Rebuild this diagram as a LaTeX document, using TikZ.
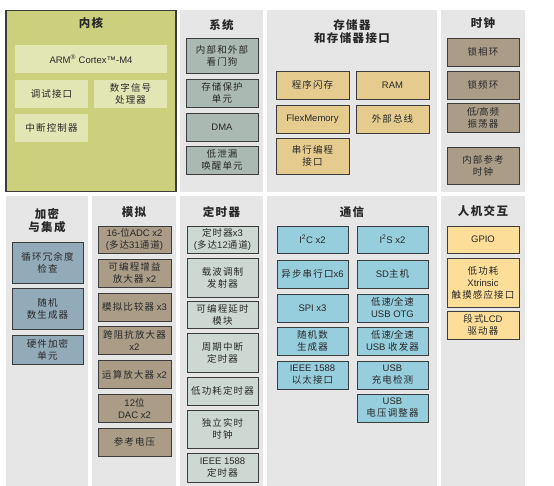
\documentclass[tikz,border=0pt]{standalone}
\usepackage{fontspec}
\setmainfont{Noto Sans CJK SC}[LetterSpace=12]
\newfontfamily\latfont{Liberation Sans}
\newcommand{\lat}[1]{{\latfont #1}}

\definecolor{panelbg}{RGB}{230,230,230}
\definecolor{corefill}{RGB}{203,208,125}
\definecolor{coreinner}{RGB}{226,229,180}
\definecolor{sysfill}{RGB}{170,186,178}
\definecolor{memfill}{RGB}{229,204,142}
\definecolor{clkfill}{RGB}{170,156,135}
\definecolor{cryfill}{RGB}{147,170,185}
\definecolor{timfill}{RGB}{206,216,210}
\definecolor{comfill}{RGB}{150,206,222}
\definecolor{hmifill}{RGB}{252,222,152}
\definecolor{edge}{RGB}{60,60,60}
\definecolor{txt}{RGB}{40,40,40}

\begin{document}
\begin{tikzpicture}[x=1pt, y=-1pt,
  panel/.style={fill=panelbg, inner sep=0pt},
  ptitle/.style={font=\bfseries\fontsize{11.5}{13.5}\selectfont, align=center, text=txt},
  blk/.style={draw=edge, line width=0.9pt, inner sep=0pt, align=center, text=txt, font=\fontsize{9.5}{12}\selectfont, minimum height=28},
  corebox/.style={fill=coreinner, inner sep=0pt, align=center, text=txt, font=\fontsize{9.5}{12}\selectfont, minimum height=28, minimum width=73},
  sysbox/.style={blk, fill=sysfill, minimum width=72},
  membox/.style={blk, fill=memfill, minimum width=73},
  clkbox/.style={blk, fill=clkfill, minimum width=72},
  crybox/.style={blk, fill=cryfill, minimum width=71},
  anabox/.style={blk, fill=clkfill, minimum width=73},
  timbox/.style={blk, fill=timfill, minimum width=71},
  combox/.style={blk, fill=comfill, minimum width=71},
  hmibox/.style={blk, fill=hmifill, minimum width=72}]

\fill[white] (0,0) rectangle (554,486);
\useasboundingbox (0,0) rectangle (554,486);

% top row panels
\node[panel, fill=corefill, draw=edge, line width=1.5pt, minimum width=170, minimum height=181] (p_core) at (91,101) {};
\node[panel, minimum width=83, minimum height=182] (p_sys) at (221.5,101) {};
\node[panel, minimum width=170, minimum height=182] (p_mem) at (352,101) {};
\node[panel, minimum width=84, minimum height=182] (p_clk) at (483,101) {};

% bottom row panels
\node[panel, minimum width=82, minimum height=290] (p_cry) at (47,341) {};
\node[panel, minimum width=84, minimum height=290] (p_ana) at (134,341) {};
\node[panel, minimum width=83, minimum height=290] (p_tim) at (221.5,341) {};
\node[panel, minimum width=170, minimum height=290] (p_com) at (352,341) {};
\node[panel, minimum width=84, minimum height=290] (p_hmi) at (483,341) {};

% titles
\node[ptitle] (t_core) at (91,23) {内核};
\node[ptitle] (t_sys) at (221.5,25) {系统};
\node[ptitle] (t_mem) at (352,31.5) {存储器\\和存储器接口};
\node[ptitle] (t_clk) at (483,23) {时钟};
\node[ptitle] (t_cry) at (47,220.5) {加密\\与集成};
\node[ptitle] (t_ana) at (134,212) {模拟};
\node[ptitle] (t_tim) at (221.5,212) {定时器};
\node[ptitle] (t_com) at (352,212) {通信};
\node[ptitle] (t_hmi) at (483,211) {人机交互};

% core
\node[corebox, minimum width=152] (core_arm) at (91,59) {\lat{ARM\textsuperscript{®} Cortex™-M4}};
\node[corebox] (core_dbg) at (51.5,94) {调试接口};
\node[corebox] (core_dsp) at (130.5,94) {数字信号\\处理器};
\node[corebox] (core_irq) at (51.5,128) {中断控制器};

% system
\node[sysbox, minimum height=35] (sys_1) at (222,55.5) {内部和外部\\看门狗};
\node[sysbox] (sys_2) at (222,93) {存储保护\\单元};
\node[sysbox] (sys_3) at (222,127) {\lat{DMA}};
\node[sysbox] (sys_4) at (222,160) {低泄漏\\唤醒单元};

% memory
\node[membox] (mem_flash) at (312.5,85) {程序闪存};
\node[membox] (mem_ram) at (392.5,85) {\lat{RAM}};
\node[membox] (mem_flex) at (312.5,119) {\lat{FlexMemory}};
\node[membox] (mem_bus) at (392.5,119) {外部总线};
\node[membox, minimum height=36] (mem_prog) at (312.5,156) {串行编程\\接口};

% clock
\node[clkbox] (clk_pll) at (483,52) {锁相环};
\node[clkbox] (clk_fll) at (483,85) {锁频环};
\node[clkbox, minimum height=29] (clk_osc) at (483,117.5) {低\lat{/}高频\\振荡器};
\node[clkbox, minimum height=37] (clk_ref) at (483,165.5) {内部参考\\时钟};

% crypto
\node[crybox, minimum height=41] (cry_crc) at (47.5,262.5) {循环冗余度\\检查};
\node[crybox, minimum height=41] (cry_rng) at (47.5,308.5) {随机\\数生成器};
\node[crybox, minimum height=29] (cry_hw) at (47.5,349.5) {硬件加密\\单元};

% analog
\node[anabox, minimum height=27] (ana_1) at (134.5,239.5) {\lat{16-}位\lat{ADC x2}\\\lat{(}多达\lat{31}通道\lat{)}};
\node[anabox] (ana_2) at (134.5,273.3) {可编程增益\\放大器\lat{ x2}};
\node[anabox] (ana_3) at (134.5,307.1) {模拟比较器\lat{ x3}};
\node[anabox] (ana_4) at (134.5,340.9) {跨阻抗放大器\\\lat{x2}};
\node[anabox] (ana_5) at (134.5,374.7) {运算放大器\lat{ x2}};
\node[anabox] (ana_6) at (134.5,408.5) {\lat{12}位\\\lat{DAC x2}};
\node[anabox] (ana_7) at (134.5,442.3) {参考电压};

% timers
\node[timbox, minimum height=27] (tim_1) at (222.5,239.5) {定时器\lat{x3}\\\lat{(}多达\lat{12}通道\lat{)}};
\node[timbox, minimum height=39] (tim_2) at (222.5,277.5) {载波调制\\发射器};
\node[timbox, minimum height=27] (tim_3) at (222.5,314.5) {可编程延时\\模块};
\node[timbox, minimum height=39] (tim_4) at (222.5,352.5) {周期中断\\定时器};
\node[timbox] (tim_5) at (222.5,391) {低功耗定时器};
\node[timbox, minimum height=38] (tim_6) at (222.5,429) {独立实时\\时钟};
\node[timbox, minimum height=29] (tim_7) at (222.5,467.5) {\lat{IEEE 1588}\\定时器};

% communication
\node[combox, minimum height=27] (com_i2c) at (312.5,239.5) {\lat{I\textsuperscript{2}C x2}};
\node[combox] (com_uart) at (312.5,274) {异步串行口\lat{x6}};
\node[combox] (com_spi) at (312.5,308) {\lat{SPI x3}};
\node[combox] (com_rng) at (312.5,341) {随机数\\生成器};
\node[combox] (com_eth) at (312.5,375) {\lat{IEEE 1588}\\以太接口};
\node[combox, minimum height=27] (com_i2s) at (392.5,239.5) {\lat{I\textsuperscript{2}S x2}};
\node[combox] (com_sd) at (392.5,274) {\lat{SD}主机};
\node[combox] (com_otg) at (392.5,308) {低速\lat{/}全速\\\lat{USB OTG}};
\node[combox] (com_phy) at (392.5,341) {低速\lat{/}全速\\\lat{USB }收发器};
\node[combox] (com_dcd) at (392.5,375) {\lat{USB}\\充电检测};
\node[combox] (com_reg) at (392.5,408) {\lat{USB}\\电压调整器};

% human-machine interface
\node[hmibox, minimum height=27] (hmi_gpio) at (483,239.5) {\lat{GPIO}};
\node[hmibox, minimum height=49] (hmi_tsi) at (483,282.5) {低功耗\\\lat{Xtrinsic}\\触摸感应接口};
\node[hmibox] (hmi_lcd) at (483,325) {段式\lat{LCD}\\驱动器};
\end{tikzpicture}
\end{document}
